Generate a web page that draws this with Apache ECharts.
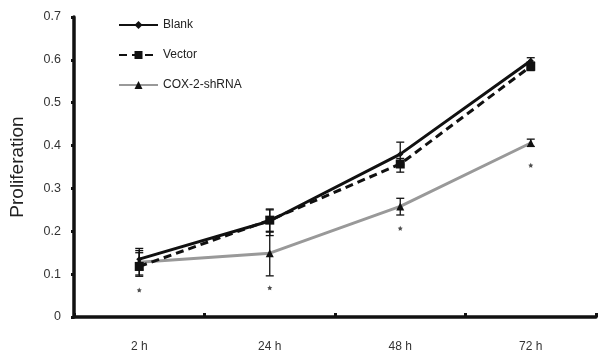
<!DOCTYPE html>
<html><head><meta charset="utf-8">
<script src="https://cdn.jsdelivr.net/npm/echarts@6/dist/echarts.min.js"></script>
<style>html,body{margin:0;padding:0;background:#fff}#c{width:598px;height:357px}</style>
</head><body><div id="c"></div>
<script>
var categories = ['2 h', '24 h', '48 h', '72 h'];
var blank = [0.135, 0.224, 0.38, 0.598];
var vector = [0.118, 0.226, 0.357, 0.585];
var cox = [0.128, 0.149, 0.258, 0.406];
var blankErr = [[0.11, 0.16], [0.2, 0.252], [0.355, 0.408], [0.59, 0.605]];
var vectorErr = [[0.095, 0.15], [0.19, 0.25], [0.338, 0.37], [0.575, 0.595]];
var coxErr = [[0.098, 0.155], [0.096, 0.198], [0.238, 0.277], [0.398, 0.415]];
var stars = [0.063, 0.068, 0.207, 0.354];
var yTicks = [0, 0.1, 0.2, 0.3, 0.4, 0.5, 0.6, 0.7];

var chart = echarts.init(document.getElementById('c'));
function errData(arr) { return arr.map(function (e, i) { return [i, e[0], e[1]]; }); }
function errSeries(arr, color) {
  return {
    type: 'custom', silent: true, z: 1,
    data: errData(arr),
    renderItem: function (params, api) {
      var x = api.value(0);
      var lo = api.coord([x, api.value(1)]);
      var hi = api.coord([x, api.value(2)]);
      var w = 4;
      var st = { stroke: color, lineWidth: 1.3 };
      return { type: 'group', children: [
        { type: 'line', shape: { x1: lo[0], y1: lo[1], x2: hi[0], y2: hi[1] }, style: st },
        { type: 'line', shape: { x1: lo[0] - w, y1: lo[1], x2: lo[0] + w, y2: lo[1] }, style: st },
        { type: 'line', shape: { x1: hi[0] - w, y1: hi[1], x2: hi[0] + w, y2: hi[1] }, style: st }
      ] };
    }
  };
}
chart.setOption({
  animation: false,
  grid: { left: 70, right: 2, top: 17, bottom: 40 },
  legend: {
    orient: 'vertical', left: 113, top: 14, itemGap: 18, itemWidth: 39, itemHeight: 10,
    textStyle: { fontFamily: 'Liberation Sans', fontSize: 12, color: '#222' },
    data: ['Blank', 'Vector', 'COX-2-shRNA']
  },
  xAxis: {
    type: 'category', data: categories, boundaryGap: true,
    axisLine: { lineStyle: { color: '#111', width: 3.5 } },
    axisTick: { show: true, inside: true, length: 4, lineStyle: { color: '#111', width: 3 } },
    axisLabel: { fontFamily: 'Liberation Sans', fontSize: 12, color: '#333', margin: 24 }
  },
  yAxis: {
    type: 'value', min: 0, max: 0.7, interval: 0.1,
    name: 'Proliferation', nameLocation: 'middle', nameGap: 47,
    nameTextStyle: { fontFamily: 'Liberation Sans', fontSize: 19, color: '#222' },
    splitLine: { show: false },
    axisLine: { show: true, lineStyle: { color: '#111', width: 3.5 } },
    axisTick: { show: true, length: 3, lineStyle: { color: '#111', width: 3 } },
    axisLabel: { fontFamily: 'Liberation Sans', fontSize: 12.5, color: '#333', margin: 13,
      formatter: function (v) { return v === 0 ? '0' : v.toFixed(1); } }
  },
  series: [
    errSeries(blankErr, '#111'),
    errSeries(vectorErr, '#111'),
    errSeries(coxErr, '#111'),
    { name: 'COX-2-shRNA', type: 'line', data: cox, z: 2,
      lineStyle: { color: '#999', width: 3 }, itemStyle: { color: '#111' },
      symbol: 'triangle', symbolSize: 8 },
    { name: 'Vector', type: 'line', data: vector, z: 3,
      lineStyle: { color: '#111', width: 3, type: [8, 5] }, itemStyle: { color: '#111' },
      symbol: 'rect', symbolSize: 9 },
    { name: 'Blank', type: 'line', data: blank, z: 4,
      lineStyle: { color: '#111', width: 3 }, itemStyle: { color: '#111' },
      symbol: 'diamond', symbolSize: 6 },
    { type: 'scatter', data: stars, symbol: 'path://M0,-10L2.9,-4L9.5,-3.1L4.8,1.5L5.9,8.1L0,5L-5.9,8.1L-4.8,1.5L-9.5,-3.1L-2.9,-4Z',
      symbolSize: 5, itemStyle: { color: '#222' }, z: 5, silent: true }
  ]
});
</script></body></html>
